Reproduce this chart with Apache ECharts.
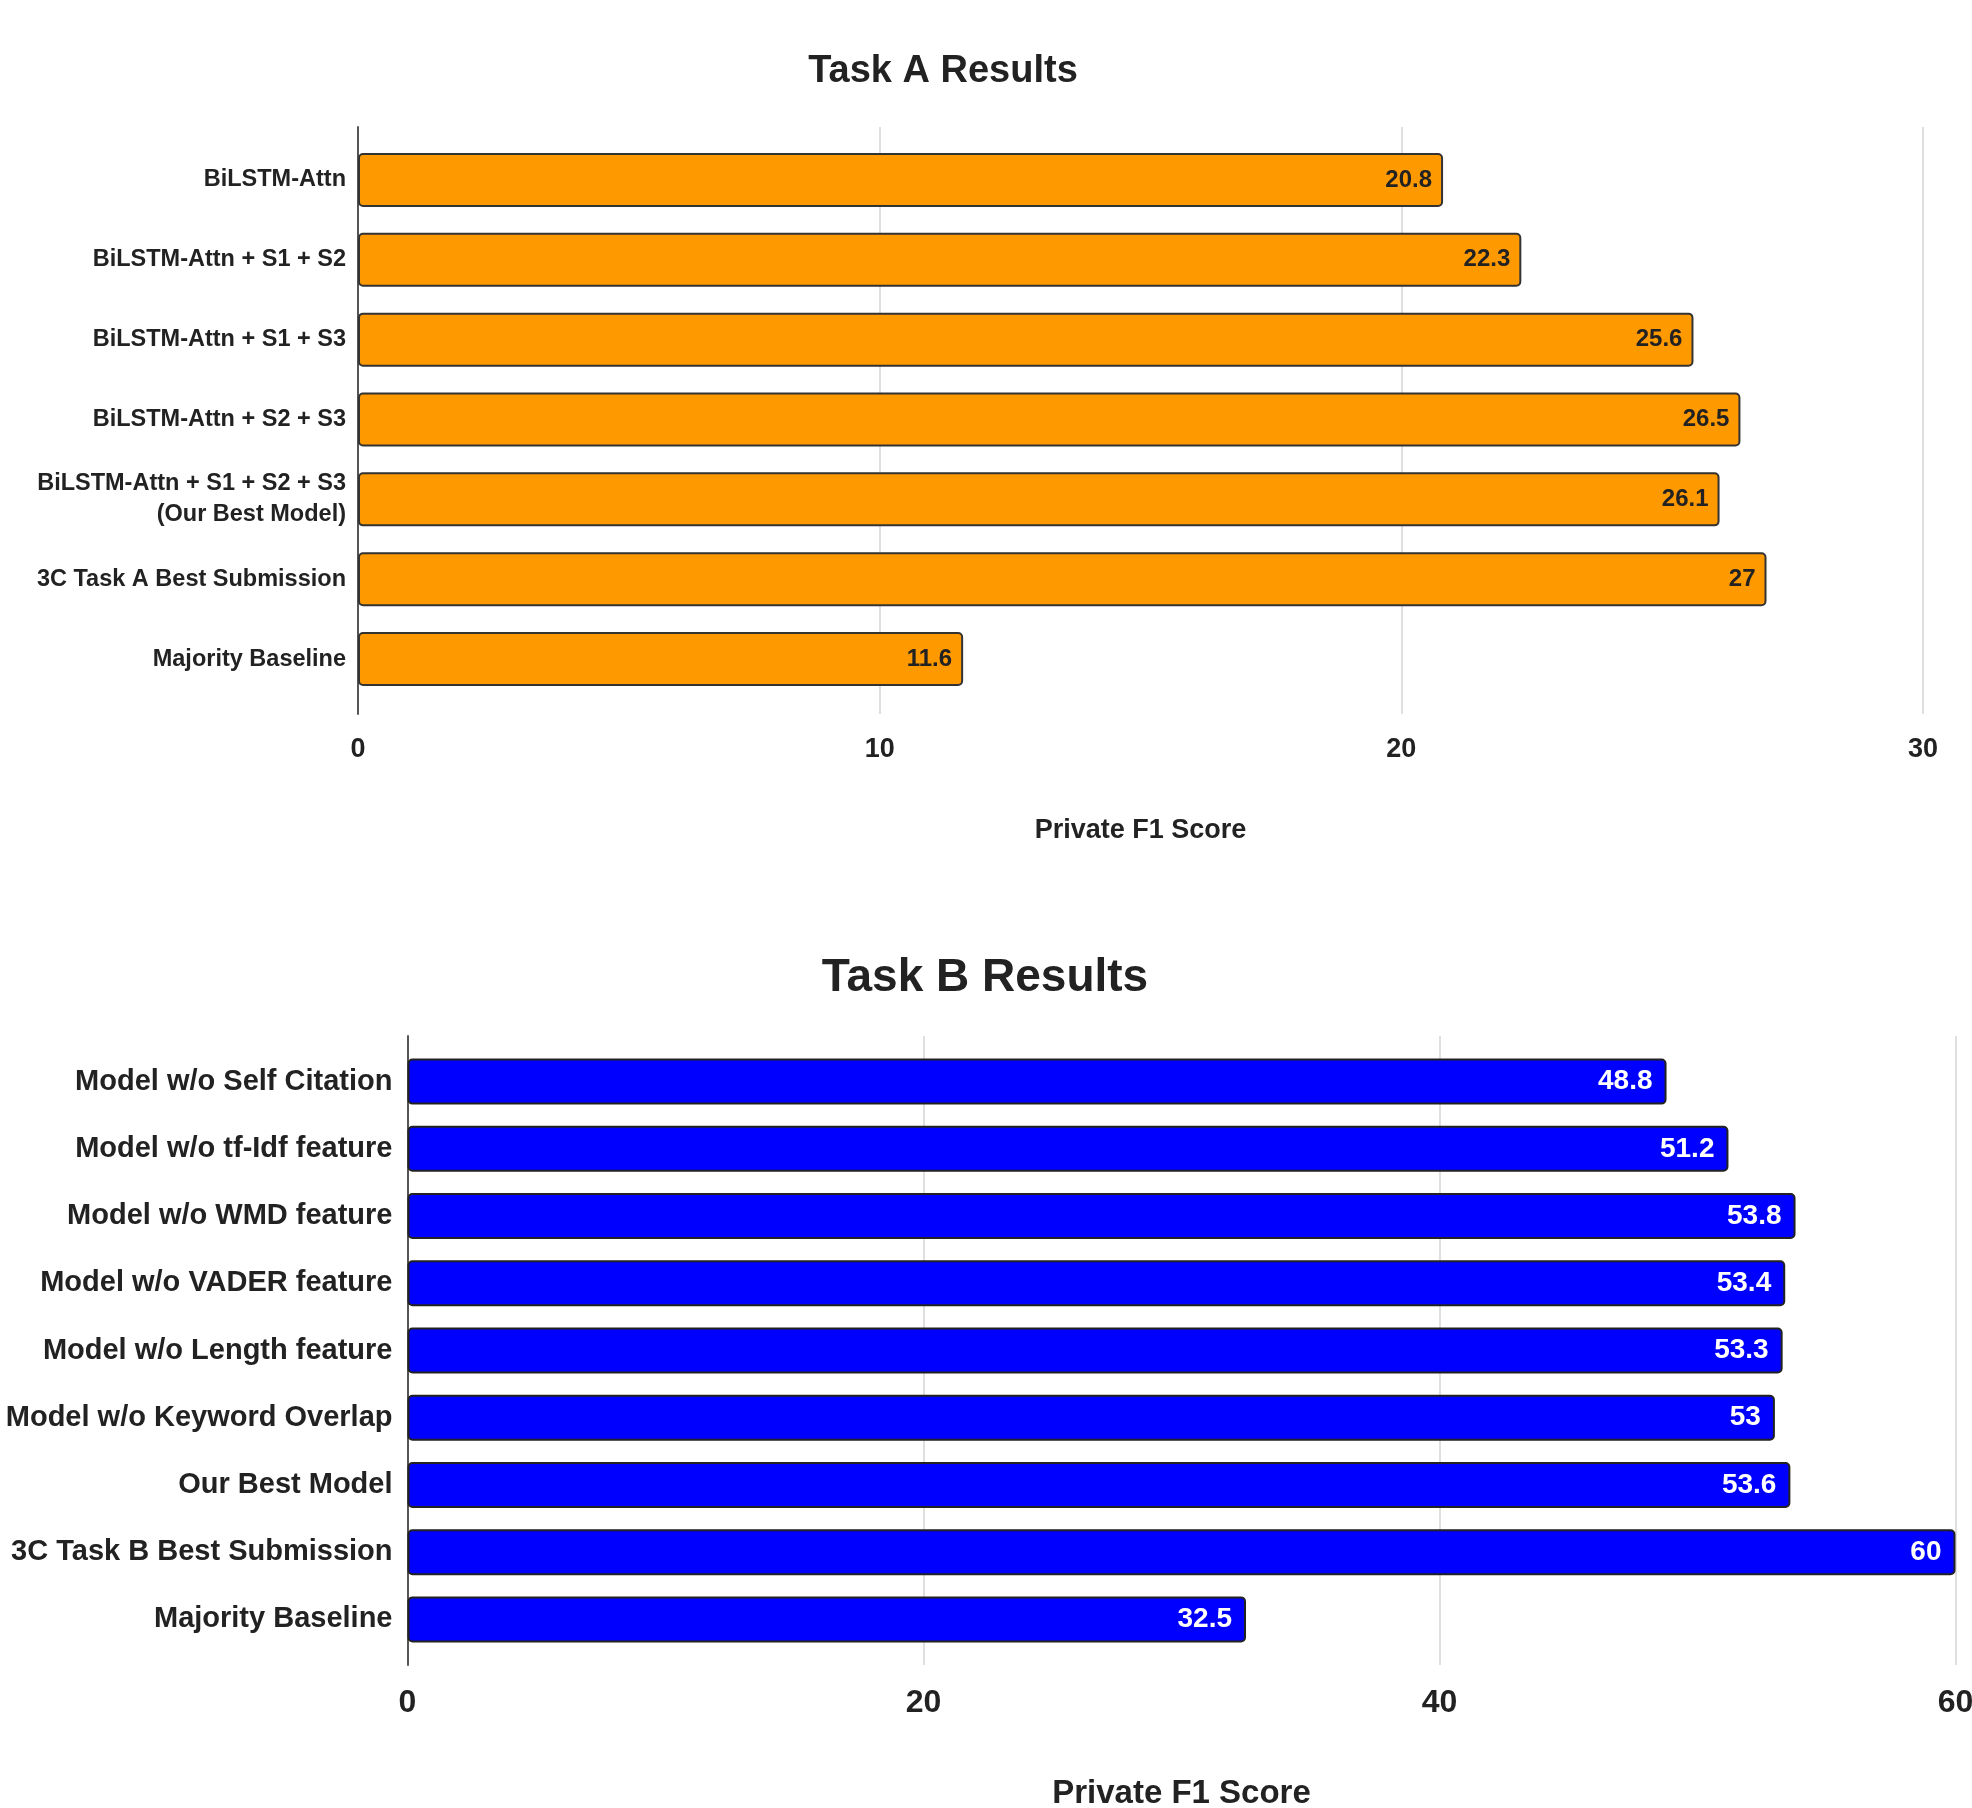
<!DOCTYPE html>
<html>
<head>
<meta charset="utf-8">
<script src="https://cdn.jsdelivr.net/npm/echarts@6/dist/echarts.min.js"></script>
<style>
  html, body { margin: 0; padding: 0; background: #ffffff; }
  #chart { width: 1972px; height: 1808px; }
</style>
</head>
<body>
<div id="chart"></div>
<script>
// Task A: private F1 per model variant
const taskACategories = [
  'BiLSTM-Attn',
  'BiLSTM-Attn + S1 + S2',
  'BiLSTM-Attn + S1 + S3',
  'BiLSTM-Attn + S2 + S3',
  'BiLSTM-Attn + S1 + S2 + S3\n(Our Best Model)',
  '3C Task A Best Submission',
  'Majority Baseline'
];
const taskAValues = [20.8, 22.3, 25.6, 26.5, 26.1, 27, 11.6];
const taskATicks = [0, 10, 20, 30];

// Task B: ablation of features
const taskBCategories = [
  'Model w/o Self Citation',
  'Model w/o tf-Idf feature',
  'Model w/o WMD feature',
  'Model w/o VADER feature',
  'Model w/o Length feature',
  'Model w/o Keyword Overlap',
  'Our Best Model',
  '3C Task B Best Submission',
  'Majority Baseline'
];
const taskBValues = [48.8, 51.2, 53.8, 53.4, 53.3, 53, 53.6, 60, 32.5];
const taskBTicks = [0, 20, 40, 60];

const SANS = '"Liberation Sans", Arial, Helvetica, sans-serif';
const INK = '#222222';

const chart = echarts.init(document.getElementById('chart'), null, { renderer: 'canvas' });

function tickRange(ticks) {
  return { min: ticks[0], max: ticks[ticks.length - 1], interval: ticks[1] - ticks[0] };
}
const rA = tickRange(taskATicks);
const rB = tickRange(taskBTicks);

function gridBox(left, right, top, height) {
  return { left, right, top, height, containLabel: false, outerBoundsMode: 'none' };
}

const option = {
  backgroundColor: '#ffffff',
  animation: false,
  title: [
    {
      text: 'Task A Results', left: 938, top: 48, textAlign: 'center',
      textStyle: { fontFamily: SANS, fontSize: 38, fontWeight: 'bold', color: INK }
    },
    {
      text: 'Task B Results', left: 980, top: 950, textAlign: 'center',
      textStyle: { fontFamily: SANS, fontSize: 46, fontWeight: 'bold', color: INK }
    }
  ],
  grid: [
    gridBox(358, 49, 127, 587),      // frame with gridlines and axes (A)
    gridBox(358, 49, 140, 559),      // bar band area (A)
    gridBox(407.5, 16.5, 1036, 629), // frame with gridlines and axes (B)
    gridBox(407.5, 16.5, 1048, 605)  // bar band area (B)
  ],
  xAxis: [
    {
      gridIndex: 0, type: 'value', min: rA.min, max: rA.max, interval: rA.interval,
      axisLine: { show: false }, axisTick: { show: false },
      splitLine: { show: true, lineStyle: { color: '#d4d4d4', width: 1.5 } },
      axisLabel: { margin: 22, fontFamily: SANS, fontSize: 27, fontWeight: 'bold', color: INK },
      name: 'Private F1 Score', nameLocation: 'middle', nameGap: 103,
      nameTextStyle: { fontFamily: SANS, fontSize: 27, fontWeight: 'bold', color: INK }
    },
    {
      gridIndex: 1, type: 'value', min: rA.min, max: rA.max, interval: rA.interval, show: false
    },
    {
      gridIndex: 2, type: 'value', min: rB.min, max: rB.max, interval: rB.interval,
      axisLine: { show: false }, axisTick: { show: false },
      splitLine: { show: true, lineStyle: { color: '#d4d4d4', width: 1.5 } },
      axisLabel: { margin: 22, fontFamily: SANS, fontSize: 32, fontWeight: 'bold', color: INK },
      name: 'Private F1 Score', nameLocation: 'middle', nameGap: 112,
      nameTextStyle: { fontFamily: SANS, fontSize: 33, fontWeight: 'bold', color: INK }
    },
    {
      gridIndex: 3, type: 'value', min: rB.min, max: rB.max, interval: rB.interval, show: false
    }
  ],
  yAxis: [
    {
      gridIndex: 0, type: 'value', min: 0, max: 1,
      axisLine: { show: true, lineStyle: { color: '#555555', width: 2 } },
      axisTick: { show: false }, axisLabel: { show: false }, splitLine: { show: false }
    },
    {
      gridIndex: 1, type: 'category', data: taskACategories, inverse: true,
      axisLine: { show: false }, axisTick: { show: false },
      axisLabel: {
        margin: 12, fontFamily: SANS, fontSize: 23.5, fontWeight: 'bold', color: INK,
        align: 'right', lineHeight: 31
      }
    },
    {
      gridIndex: 2, type: 'value', min: 0, max: 1,
      axisLine: { show: true, lineStyle: { color: '#555555', width: 2 } },
      axisTick: { show: false }, axisLabel: { show: false }, splitLine: { show: false }
    },
    {
      gridIndex: 3, type: 'category', data: taskBCategories, inverse: true,
      axisLine: { show: false }, axisTick: { show: false },
      axisLabel: {
        margin: 15, fontFamily: SANS, fontSize: 29, fontWeight: 'bold', color: INK, align: 'right'
      }
    }
  ],
  series: [
    {
      type: 'bar', xAxisIndex: 1, yAxisIndex: 1, data: taskAValues, barWidth: 54,
      itemStyle: { color: '#FF9900', borderColor: '#333333', borderWidth: 2, borderRadius: 4 },
      label: {
        show: true, position: 'insideRight', distance: 11,
        fontFamily: SANS, fontSize: 24, fontWeight: 'bold', color: INK
      }
    },
    {
      type: 'bar', xAxisIndex: 3, yAxisIndex: 3, data: taskBValues, barWidth: 46,
      itemStyle: { color: '#0000FF', borderColor: '#222222', borderWidth: 2, borderRadius: 4 },
      label: {
        show: true, position: 'insideRight', distance: 14,
        fontFamily: SANS, fontSize: 28, fontWeight: 'bold', color: '#ffffff'
      }
    }
  ]
};

chart.setOption(option);
</script>
</body>
</html>
